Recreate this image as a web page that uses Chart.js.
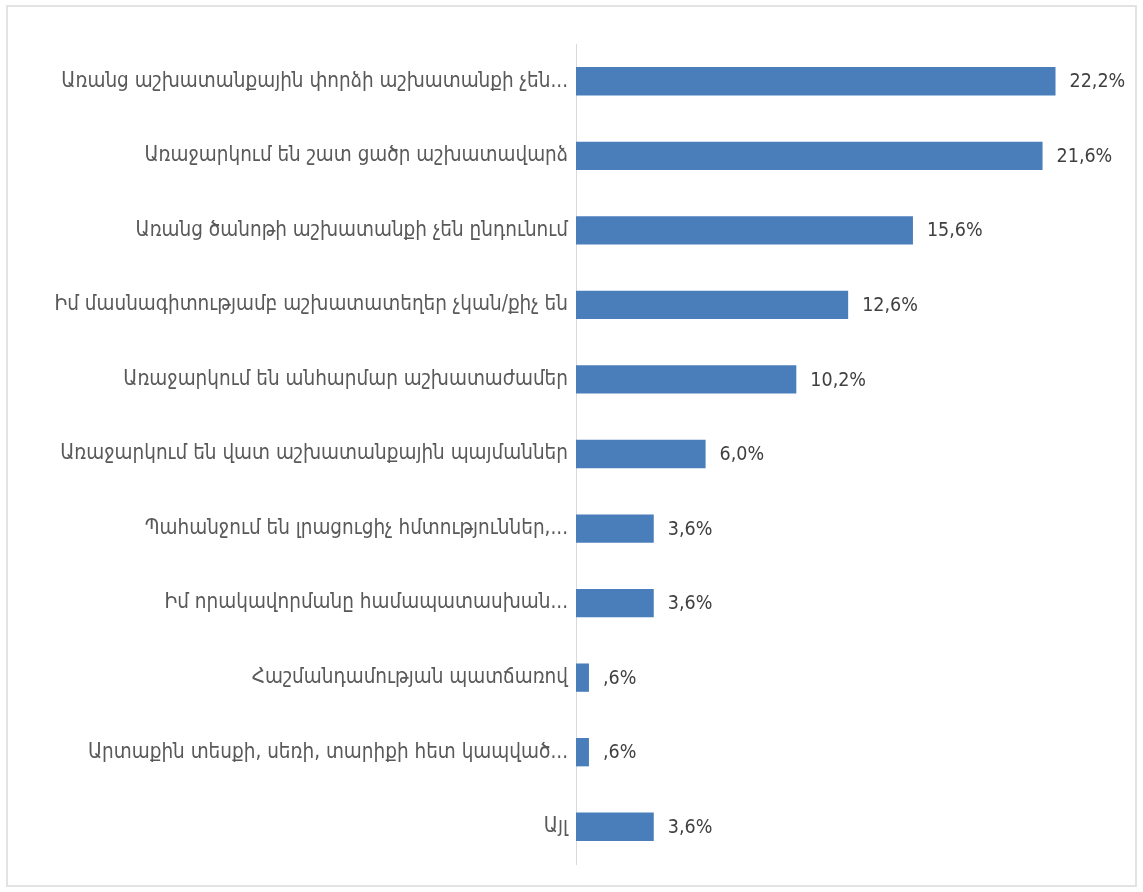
<!DOCTYPE html>
<html>
<head>
<meta charset="utf-8">
<script src="https://cdn.jsdelivr.net/npm/chart.js@4.4.1/dist/chart.umd.min.js"></script>
<style>
  html, body { margin: 0; padding: 0; background: #fff; }
  #wrap { position: relative; width: 1143px; height: 892px; }
  #frame { position: absolute; left: 6px; top: 5px; width: 1131px; height: 882px; border: 2px solid #e3e3e3; box-sizing: border-box; pointer-events: none; }
  canvas { position: absolute; left: 0; top: 0; }
</style>
</head>
<body>
<div id="wrap">
  <canvas id="chart" width="1143" height="892"></canvas>
  <div id="frame"></div>
</div>
<script>
const reasons = [
  'Առանց աշխատանքային փորձի աշխատանքի չեն...',
  'Առաջարկում են շատ ցածր աշխատավարձ',
  'Առանց ծանոթի աշխատանքի չեն ընդունում',
  'Իմ մասնագիտությամբ աշխատատեղեր չկան/քիչ են',
  'Առաջարկում են անհարմար աշխատաժամեր',
  'Առաջարկում են վատ աշխատանքային պայմաններ',
  'Պահանջում են լրացուցիչ հմտություններ,...',
  'Իմ որակավորմանը համապատասխան...',
  'Հաշմանդամության պատճառով',
  'Արտաքին տեսքի, սեռի, տարիքի հետ կապված...',
  'Այլ',
];
const shares = [22.2, 21.6, 15.6, 12.6, 10.2, 6.0, 3.6, 3.6, 0.6, 0.6, 3.6];

const LABEL_FONT = '"DejaVu Sans Condensed", "DejaVu Sans", sans-serif';

// Excel-style percent: comma decimal, no leading zero
function pct(v) {
  let s = v.toFixed(1).replace('.', ',');
  if (s.startsWith('0,')) s = s.slice(1);
  return s + '%';
}

const valueLabels = {
  id: 'valueLabels',
  afterDatasetsDraw(chart) {
    const { ctx } = chart;
    const meta = chart.getDatasetMeta(0);
    ctx.save();
    ctx.font = '19.5px ' + LABEL_FONT;
    ctx.fillStyle = '#404040';
    ctx.textBaseline = 'middle';
    ctx.textAlign = 'left';
    meta.data.forEach((bar, i) => {
      ctx.fillText(pct(shares[i]), bar.x + 14, bar.y + 1);
    });
    ctx.restore();
  }
};

new Chart(document.getElementById('chart'), {
  type: 'bar',
  data: {
    labels: reasons,
    datasets: [{
      data: shares,
      backgroundColor: '#4a7ebb',
      borderWidth: 0,
      categoryPercentage: 1,
      barPercentage: 0.38,
    }],
  },
  options: {
    indexAxis: 'y',
    responsive: false,
    animation: false,
    layout: { padding: { top: 44, bottom: 28, right: 27, left: 0 } },
    plugins: { legend: { display: false }, tooltip: { enabled: false } },
    scales: {
      x: { display: false, min: 0, max: 25 },
      y: {
        grid: { display: false },
        border: { display: true, color: '#d9d9d9', width: 1 },
        ticks: { color: '#595959', font: { family: LABEL_FONT, size: 20.5 }, padding: 0 },
        afterFit(scale) { scale.width = 576; },
      },
    },
  },
  plugins: [valueLabels],
});
</script>
</body>
</html>
